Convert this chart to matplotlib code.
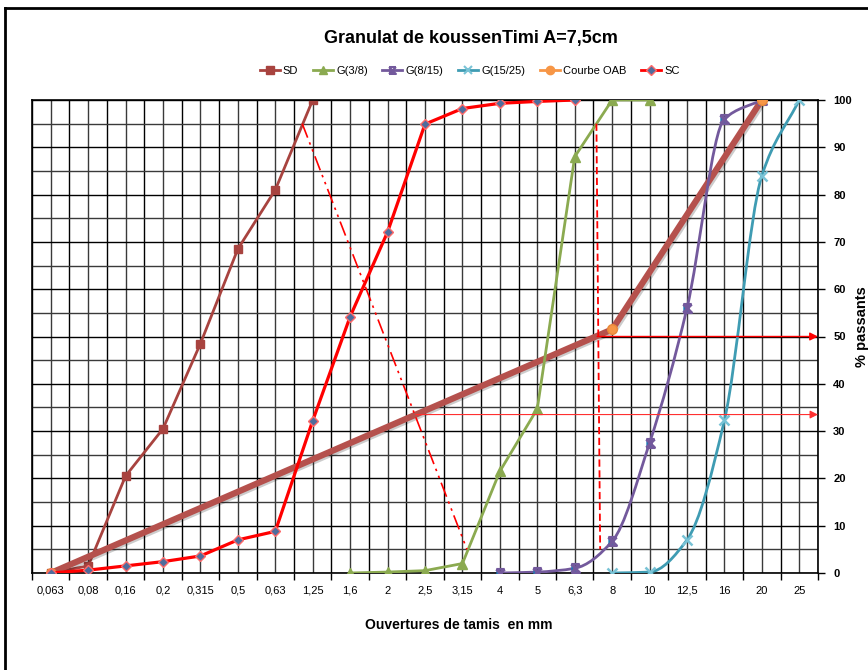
import numpy as np
import matplotlib.pyplot as plt
from matplotlib.path import Path
from matplotlib.patches import PathPatch
from matplotlib.lines import Line2D
import matplotlib.patheffects as pe

plt.rcParams['font.family'] = ['Liberation Sans Narrow', 'Liberation Sans', 'DejaVu Sans']

# Data
tamis = ['0,063', '0,08', '0,16', '0,2', '0,315', '0,5', '0,63', '1,25', '1,6', '2',
         '2,5', '3,15', '4', '5', '6,3', '8', '10', '12,5', '16', '20', '25']

sd_tamis = ['0,063', '0,08', '0,16', '0,2', '0,315', '0,5', '0,63', '1,25']
sd_val = [0, 1.5, 20.5, 30.5, 48.5, 68.5, 81, 100]

g38_tamis = ['1,6', '2', '2,5', '3,15', '4', '5', '6,3', '8', '10']
g38_val = [0, 0.2, 0.5, 2, 21.5, 34.7, 88, 100, 100]

g815_tamis = ['4', '5', '6,3', '8', '10', '12,5', '16', '20']
g815_val = [0, 0.2, 1, 6.7, 27.5, 56, 96, 100]

g1525_tamis = ['8', '10', '12,5', '16', '20', '25']
g1525_val = [0, 0.2, 7, 32.3, 84, 100]

oab_tamis = ['0,063', '8', '20']
oab_val = [0, 51.5, 100]

sc_tamis = ['0,063', '0,08', '0,16', '0,2', '0,315', '0,5', '0,63', '1,25', '1,6', '2',
            '2,5', '3,15', '4', '5', '6,3']
sc_val = [0, 0.6, 1.5, 2.4, 3.6, 7, 8.8, 32.2, 54.2, 72.1, 94.9, 98.2, 99.3, 99.7, 100]

# construction lines (x in category index units)
ligne1_x, ligne1_y = [6.72, 11.12], [95, 5]
ligne2_x, ligne2_y = [14.58, 14.68], [95, 5]
fleche1_x, fleche1_y = 14.6, 50
fleche2_x, fleche2_y = 9.75, 33.5

c_sd = '#A8433F'
c_g38 = '#8BAA50'
c_g815 = '#73599C'
c_g1525 = '#3F9CB3'
c_oab = '#F79646'
c_sc = '#FF0000'


def idx(lst):
    return [tamis.index(t) for t in lst]


def smooth_path(x, y):
    # monotone cubic (no overshoot) drawn as bezier segments
    x = np.asarray(x, float)
    y = np.asarray(y, float)
    d = np.diff(y) / np.diff(x)
    m = np.zeros(len(x))
    m[0], m[-1] = d[0], d[-1]
    for k in range(1, len(x) - 1):
        if d[k - 1] * d[k] > 0:
            m[k] = 2 / (1 / d[k - 1] + 1 / d[k])
    verts = [(x[0], y[0])]
    codes = [Path.MOVETO]
    for k in range(len(x) - 1):
        h = (x[k + 1] - x[k]) / 3
        verts += [(x[k] + h, y[k] + m[k] * h), (x[k + 1] - h, y[k + 1] - m[k + 1] * h),
                  (x[k + 1], y[k + 1])]
        codes += [Path.CURVE4] * 3
    return Path(verts, codes)


# hourglass marker like excel star
star = Path([(-1, -1), (1, 1), (-1, 1), (1, -1), (-1, -1), (-1, 1), (1, 1)],
            [Path.MOVETO, Path.LINETO, Path.MOVETO, Path.LINETO, Path.LINETO,
             Path.MOVETO, Path.LINETO])

fig = plt.figure(figsize=(8.68, 6.7), dpi=100)
ax = fig.add_axes([32 / 868, 1 - 573 / 670, 786 / 868, 473 / 670])

# grid
ax.set_xlim(-0.5, len(tamis) - 0.5)
ax.set_ylim(0, 100)
ax.set_xticks(np.arange(-0.5, len(tamis), 1.0))
ax.set_xticks(np.arange(len(tamis)), minor=True)
ax.set_xticklabels([])
ax.set_xticklabels(tamis, minor=True, fontsize=8)
ax.tick_params(axis='x', which='major', length=5, width=1, direction='out')
ax.tick_params(axis='x', which='minor', length=0, pad=9)
ax.yaxis.tick_right()
ax.yaxis.set_label_position('right')
ax.set_yticks(np.arange(0, 101, 10))
ax.set_yticks(np.arange(5, 100, 10), minor=True)
ax.tick_params(axis='y', which='major', length=5, width=1, labelsize=8, pad=6)
ax.tick_params(axis='y', which='minor', length=0)
for lab in ax.get_yticklabels():
    lab.set_fontweight('bold')
ax.grid(True, which='major', color='#000000', lw=1.0)
ax.grid(True, which='minor', color='#3a3a3a', lw=1.0)
ax.set_axisbelow(True)
for s in ax.spines.values():
    s.set_color('black')
    s.set_linewidth(1.2)

# courbe OAB (thick line with shadow)
ax.plot(idx(oab_tamis), oab_val, color='#B5514D', lw=4.5, solid_capstyle='round', zorder=3,
        path_effects=[pe.SimpleLineShadow(offset=(1.2, -1.2), alpha=0.2), pe.Normal()])

ax.plot(idx(sd_tamis), sd_val, color=c_sd, lw=2, marker='s', ms=6, mec=c_sd, mfc=c_sd, zorder=2.5)
ax.plot(idx(g38_tamis), g38_val, color=c_g38, lw=2, marker='^', ms=7, mec=c_g38, mfc=c_g38, zorder=4)

ax.add_patch(PathPatch(smooth_path(idx(g815_tamis), g815_val), fill=False, ec=c_g815, lw=2, zorder=4))
ax.plot(idx(g815_tamis), g815_val, ls='none', marker=star, ms=6, mec=c_g815, mew=2, zorder=4.2)

ax.add_patch(PathPatch(smooth_path(idx(g1525_tamis), g1525_val), fill=False, ec=c_g1525, lw=2, zorder=4))
ax.plot(idx(g1525_tamis), g1525_val, ls='none', marker='x', ms=7, mec='#79C3D6', mew=1.8, zorder=4.2)

ax.plot(idx(oab_tamis), oab_val, ls='none', marker='o', ms=7, mfc=c_oab, mec='#E8893A', zorder=4.3)

ax.plot(idx(sc_tamis), sc_val, color=c_sc, lw=2.3, marker='D', ms=5.5, mfc='#4F6C9C', mec='#FF6A6A',
        mew=1, zorder=5)

# construction lines
ax.plot(ligne1_x, ligne1_y, color='red', lw=1.2, dashes=(9, 3, 1.5, 3, 1.5, 3), zorder=5)
ax.plot(ligne2_x, ligne2_y, color='red', lw=1.3, dashes=(4, 2), zorder=5)
ax.annotate('', xy=(len(tamis) - 0.5, fleche1_y), xytext=(fleche1_x, fleche1_y),
            arrowprops=dict(arrowstyle='-|>', color='red', lw=1.0, mutation_scale=12,
                            shrinkA=0, shrinkB=0), annotation_clip=False, zorder=6)
ax.annotate('', xy=(len(tamis) - 0.5, fleche2_y), xytext=(fleche2_x, fleche2_y),
            arrowprops=dict(arrowstyle='-|>', color='#FF3030', lw=0.8, mutation_scale=12,
                            shrinkA=0, shrinkB=0), annotation_clip=False, zorder=6)

ax.set_ylabel('% passants', fontsize=10.5, fontweight='bold')
ax.yaxis.set_label_coords((855 - 32) / 786, 0.52)

# legend
handles = [
    Line2D([], [], color=c_sd, lw=2, marker='s', ms=6, mfc=c_sd, mec=c_sd),
    Line2D([], [], color=c_g38, lw=2, marker='^', ms=6, mfc=c_g38, mec=c_g38),
    Line2D([], [], color=c_g815, lw=2, marker=star, ms=5, mec=c_g815, mew=1.5),
    Line2D([], [], color=c_g1525, lw=2, marker='x', ms=6, mec='#79C3D6', mew=1.5),
    Line2D([], [], color=c_oab, lw=2, marker='o', ms=6, mfc=c_oab, mec=c_oab),
    Line2D([], [], color=c_sc, lw=2, marker='D', ms=5, mfc='#4F6C9C', mec='#FF6A6A'),
]
labels = ['SD', 'G(3/8)', 'G(8/15)', 'G(15/25)', 'Courbe OAB', 'SC']
fig.legend(handles, labels, loc='center', bbox_to_anchor=(0.541, 1 - 71 / 670), ncol=6,
           frameon=False, fontsize=8, handlelength=1.8, handletextpad=0.3, columnspacing=1.3)

fig.text(0.5426, 1 - 38 / 670, 'Granulat de koussenTimi A=7,5cm', ha='center', va='center',
         fontsize=13, fontweight='bold')
fig.text(0.529, 1 - 625 / 670, 'Ouvertures de tamis  en mm', ha='center', va='center',
         fontsize=10, fontweight='bold')

# chart frame
fig.add_artist(Line2D([5 / 868, 5 / 868], [1 - 8 / 670, 0], transform=fig.transFigure, color='black', lw=2))
fig.add_artist(Line2D([5 / 868, 1], [1 - 8 / 670, 1 - 8 / 670], transform=fig.transFigure, color='black', lw=2))

plt.savefig('out.png', dpi=100)
